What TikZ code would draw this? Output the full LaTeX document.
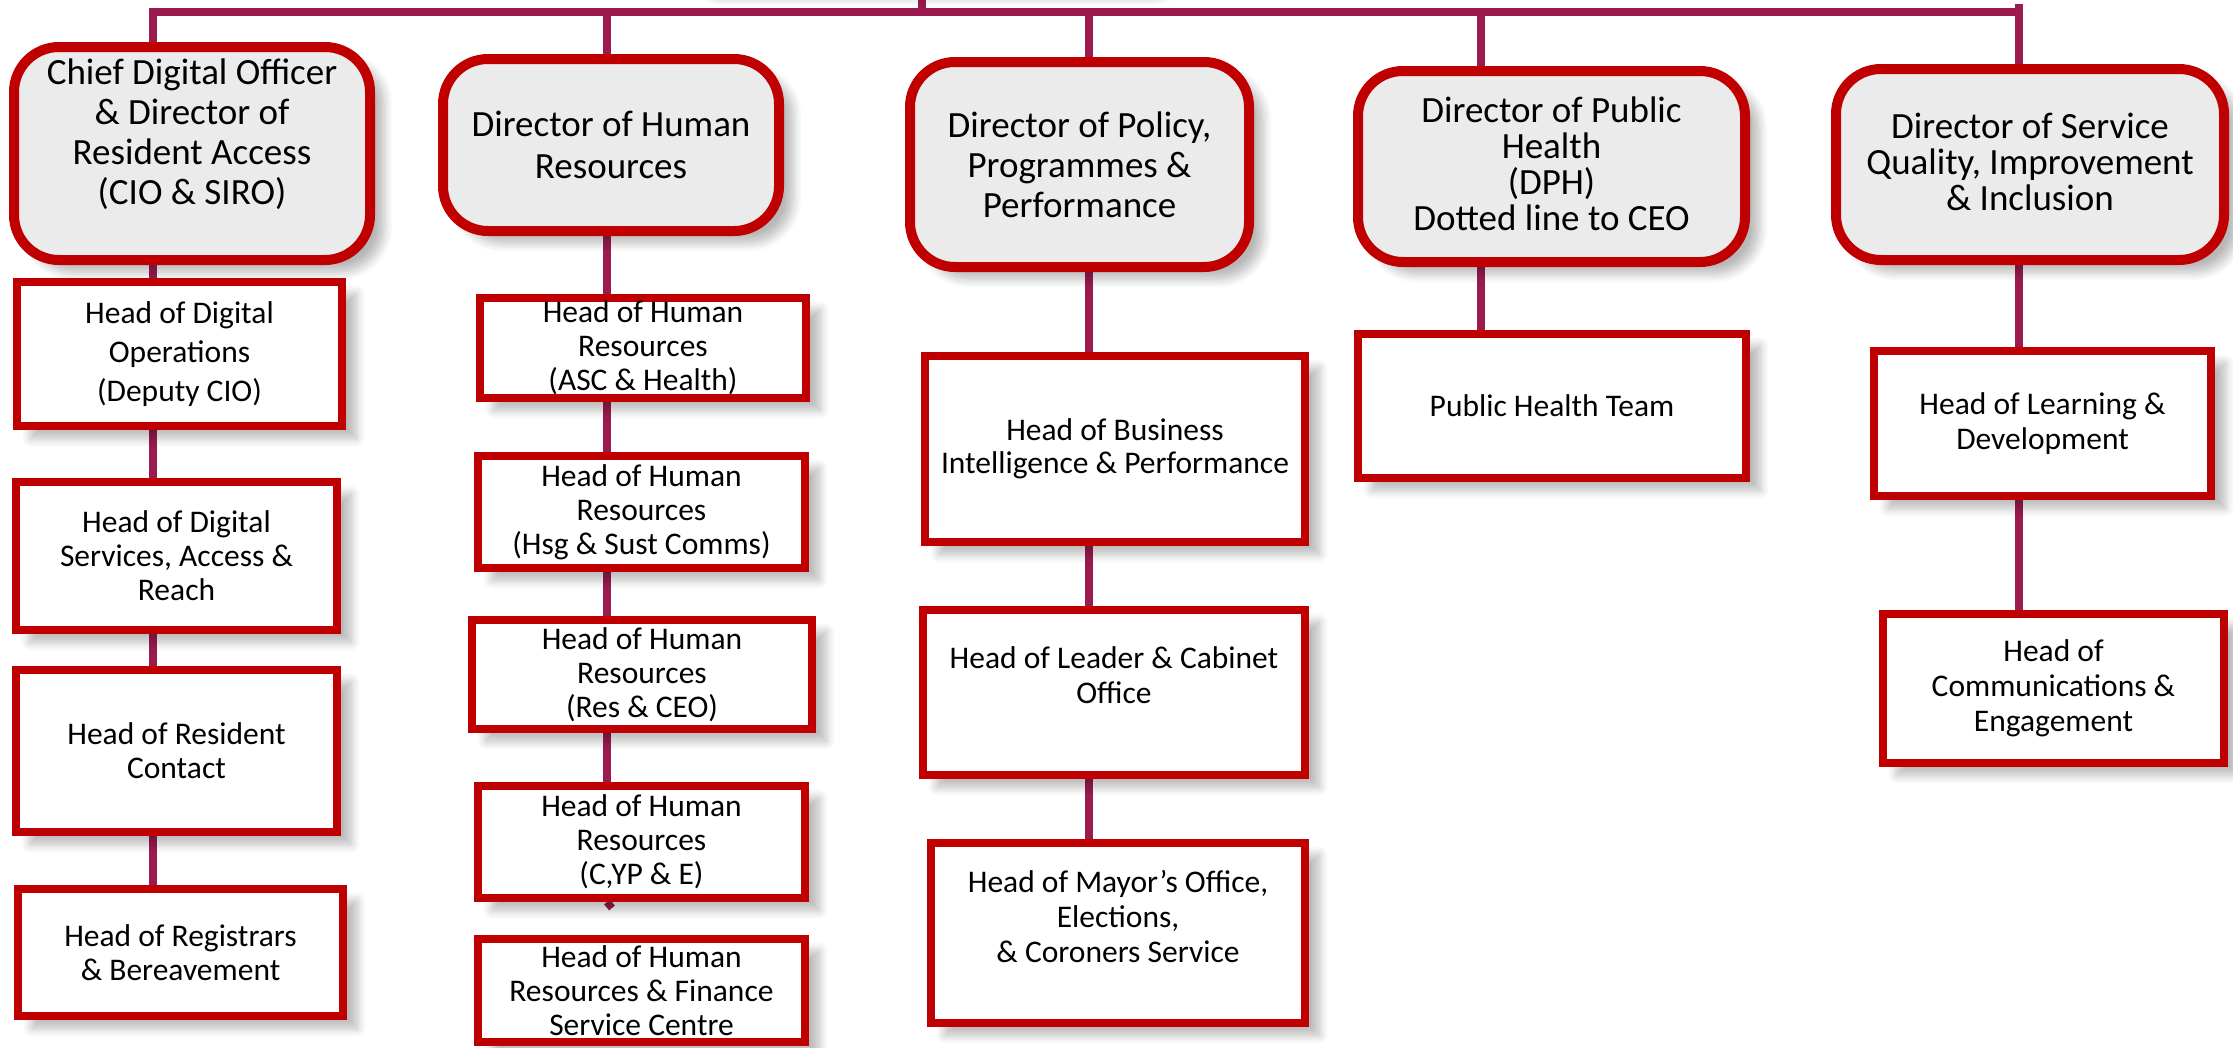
\documentclass[tikz,border=0pt]{standalone}
\usepackage{fontspec}
\setmainfont{Carlito}
\usetikzlibrary{shadows.blur}
\definecolor{boxred}{RGB}{192,0,0}
\definecolor{linkc}{RGB}{155,27,80}
\definecolor{dirfill}{RGB}{235,235,235}
\pgfdeclarelayer{background}
\pgfsetlayers{background,main}
\tikzset{
  shad/.style={blur shadow={shadow xshift=14pt, shadow yshift=-12pt, shadow blur radius=9pt, shadow opacity=28, shadow blur steps=8}},
  dirbox/.style={draw=boxred, line width=10pt, fill=dirfill, rounded corners=45pt, inner sep=0pt, align=center, shad, font=\fontsize{37}{40}\selectfont},
  headbox/.style={draw=boxred, line width=8pt, fill=white, inner sep=0pt, align=center, shad, font=\fontsize{31.5}{34}\selectfont},
  link/.style={draw=linkc, line width=7.5pt},
  mainbar/.style={draw=linkc, line width=8pt, line cap=rect},
}
\begin{document}
\begin{tikzpicture}[x=1pt,y=-1pt]
\useasboundingbox (0,0) rectangle (2233,1047);
% column connector positions
\coordinate (x1) at (153,12);
\coordinate (x2) at (607,12);
\coordinate (x3) at (1089,12);
\coordinate (x4) at (1481,12);
\coordinate (x5) at (2019,12);
\coordinate (xceo) at (922,12);
\coordinate (sqtop) at (2019,4);
\coordinate (stub) at (612,908);

% CEO box (above the page, only its shadow shows)
\node[dirbox, minimum width=513pt, minimum height=180pt] (ceo) at (923.5,-105) {};

% directors
\node[dirbox, minimum width=356pt, minimum height=213pt, text depth=43pt] (cdo) at (192,153.5)
  {Chief Digital Officer\\\& Director of\\Resident Access\\(CIO \& SIRO)};
\node[dirbox, minimum width=336pt, minimum height=172pt, font=\fontsize{37}{42}\selectfont] (hrd) at (611,145)
  {Director of Human\\Resources};
\node[dirbox, minimum width=339pt, minimum height=205pt] (pol) at (1079.5,164.5)
  {Director of Policy,\\Programmes \&\\Performance};
\node[dirbox, minimum width=387pt, minimum height=191pt, text depth=6pt, font=\fontsize{37}{36}\selectfont] (dph) at (1551.5,166.5)
  {Director of Public\\Health\\(DPH)\\Dotted line to CEO};
\node[dirbox, minimum width=388pt, minimum height=191pt, text depth=6pt, font=\fontsize{37}{36}\selectfont] (sq) at (2030,164.5)
  {Director of Service\\Quality, Improvement\\\& Inclusion};

% column 1
\node[headbox, minimum width=325pt, minimum height=144pt, font=\fontsize{31.5}{39}\selectfont] (dops) at (179.5,354)
  {Head of Digital\\Operations\\(Deputy CIO)};
\node[headbox, minimum width=321pt, minimum height=148pt] (dserv) at (176.5,556)
  {Head of Digital\\Services, Access \&\\Reach};
\node[headbox, minimum width=321pt, minimum height=162pt] (rcon) at (176.5,751)
  {Head of Resident\\Contact};
\node[headbox, minimum width=325pt, minimum height=127pt] (reg) at (180.5,952.5)
  {Head of Registrars\\\& Bereavement};

% column 2
\node[headbox, minimum width=326pt, minimum height=100pt] (hasc) at (643,348)
  {Head of Human\\Resources\\(ASC \& Health)};
\node[headbox, minimum width=327pt, minimum height=112pt] (hhsg) at (641.5,512)
  {Head of Human\\Resources\\(Hsg \& Sust Comms)};
\node[headbox, minimum width=340pt, minimum height=109pt] (hres) at (642,674.5)
  {Head of Human\\Resources\\(Res \& CEO)};
\node[headbox, minimum width=327pt, minimum height=112pt] (hcyp) at (641.5,842)
  {Head of Human\\Resources\\(C,YP \& E)};
\node[headbox, minimum width=327pt, minimum height=103pt] (hfin) at (641.5,990.5)
  {Head of Human\\Resources \& Finance\\Service Centre};

% column 3
\node[headbox, minimum width=380pt, minimum height=186pt, font=\fontsize{31.5}{33}\selectfont] (bi) at (1115,449)
  {Head of Business\\Intelligence \& Performance};
\node[headbox, minimum width=382pt, minimum height=165pt, text depth=34pt, font=\fontsize{31.5}{35}\selectfont] (lead) at (1114,692.5)
  {Head of Leader \& Cabinet\\Office};
\node[headbox, minimum width=374pt, minimum height=180pt, text depth=34pt, font=\fontsize{31.5}{35}\selectfont] (mayor) at (1118,933)
  {Head of Mayor’s Office,\\Elections,\\\& Coroners Service};

% column 4
\node[headbox, minimum width=388pt, minimum height=144pt] (pht) at (1552,406)
  {Public Health Team};

% column 5
\node[headbox, minimum width=337pt, minimum height=145pt, font=\fontsize{31.5}{35}\selectfont] (ld) at (2042.5,423.5)
  {Head of Learning \&\\Development};
\node[headbox, minimum width=341pt, minimum height=149pt, font=\fontsize{31.5}{35}\selectfont] (comms) at (2053.5,688.5)
  {Head of\\Communications \&\\Engagement};

\begin{pgfonlayer}{background}
\draw[mainbar] (x1) -- (x5);
\draw[link] (xceo |- ceo.south) -- (xceo);
\draw[link] (x1) -- (x1 |- cdo.north);
\draw[link] (x2) -- (x2 |- hrd.north);
\draw[link] (x3) -- (x3 |- pol.north);
\draw[link] (x4) -- (x4 |- dph.north);
\draw[link] (sqtop) -- (x5 |- sq.north);
% column 1
\draw[link] (x1 |- cdo.south) -- (x1 |- dops.north);
\draw[link] (x1 |- dops.south) -- (x1 |- dserv.north);
\draw[link] (x1 |- dserv.south) -- (x1 |- rcon.north);
\draw[link] (x1 |- rcon.south) -- (x1 |- reg.north);
% column 2
\draw[link] (x2 |- hrd.south) -- (x2 |- hasc.north);
\draw[link] (x2 |- hasc.south) -- (x2 |- hhsg.north);
\draw[link] (x2 |- hhsg.south) -- (x2 |- hres.north);
\draw[link] (x2 |- hres.south) -- (x2 |- hcyp.north);
\draw[link] (x2 |- hcyp.south) -- (stub);
% column 3
\draw[link] (x3 |- pol.south) -- (x3 |- bi.north);
\draw[link] (x3 |- bi.south) -- (x3 |- lead.north);
\draw[link] (x3 |- lead.south) -- (x3 |- mayor.north);
% column 4
\draw[link] (x4 |- dph.south) -- (x4 |- pht.north);
% column 5
\draw[link] (x5 |- sq.south) -- (x5 |- ld.north);
\draw[link] (x5 |- ld.south) -- (x5 |- comms.north);
\end{pgfonlayer}
\end{tikzpicture}
\end{document}
